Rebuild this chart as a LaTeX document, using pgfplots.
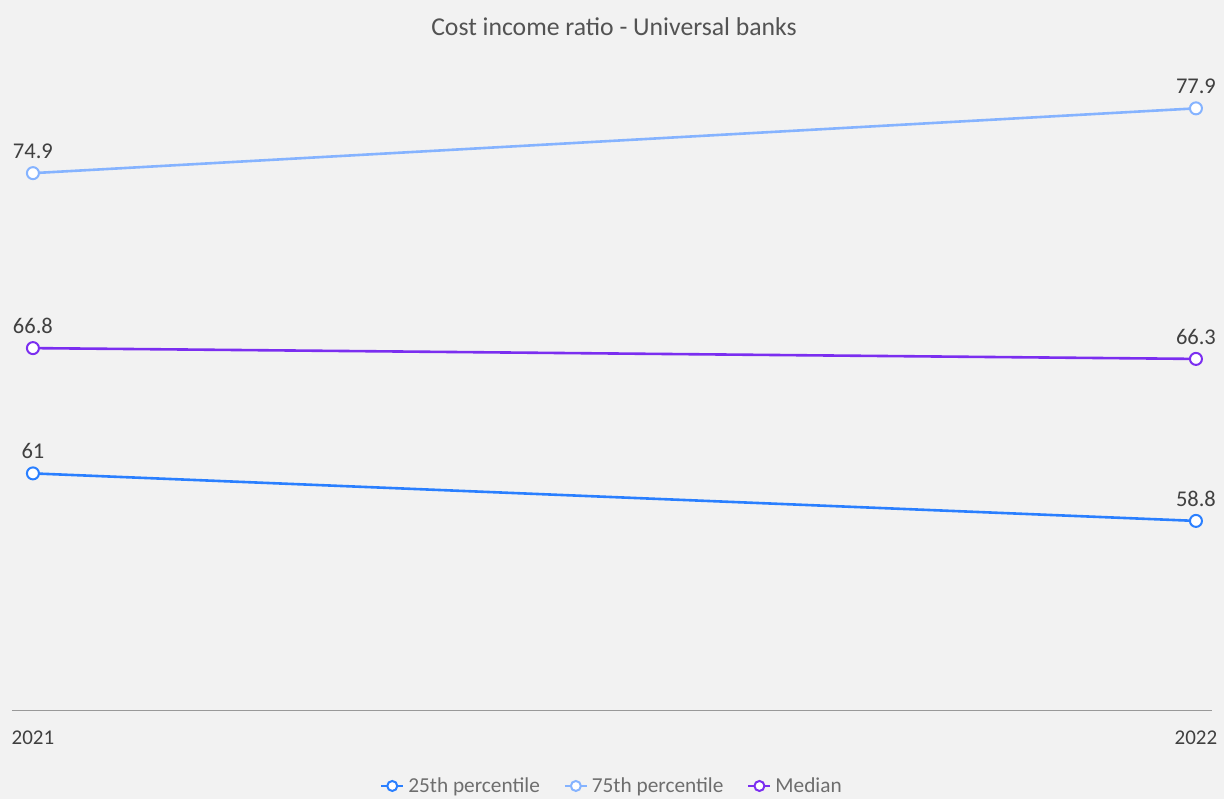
\documentclass[border=0pt]{standalone}
\usepackage{fontspec}
\setmainfont{Carlito}
\usepackage{pgfplots}
\pgfplotsset{compat=1.18}
\definecolor{bg}{HTML}{F2F2F2}
\definecolor{pA}{HTML}{2A7FFF}
\definecolor{pB}{HTML}{85B3FF}
\definecolor{pM}{HTML}{7B2EF0}
\definecolor{axgray}{HTML}{999999}
\definecolor{lblgray}{HTML}{404040}
\definecolor{leggray}{HTML}{6E6E6E}
\begin{document}
\begin{tikzpicture}[x=1pt,y=1pt]
\fill[bg] (0,0) rectangle (1224,799);
\begin{axis}[
  at={(12pt,88pt)}, anchor=south west,
  scale only axis, width=1200pt, height=648pt,
  xmin=-0.018, xmax=1.0138, ymin=50, ymax=80,
  hide y axis,
  axis x line*=bottom,
  x axis line style={-, draw=axgray, line width=1pt},
  xtick={0,1}, xticklabels={2021,2022},
  major tick length=0pt,
  xticklabel style={font=\fontsize{21}{25}\selectfont, text=lblgray, yshift=-16pt},
  clip=false,
  point meta=explicit symbolic,
  nodes near coords,
  every node near coord/.append style={font=\fontsize{22.5}{26}\selectfont, text=lblgray, anchor=south, yshift=10pt},
  every axis plot/.append style={line width=2.6pt, mark=*, mark size=6pt, mark options={fill=white, line width=2pt}},
  legend style={at={(0.5,-0.1157)}, anchor=center, draw=none, fill=none, legend columns=3,
    font=\fontsize{21.3}{24}\selectfont, text=leggray,
    /tikz/every odd column/.append style={column sep=2pt},
    /tikz/every even column/.append style={column sep=22pt}},
  legend image code/.code={\draw[mark repeat=2,mark phase=2,line width=2pt,mark size=5pt] plot coordinates {(0pt,0pt) (11pt,0pt) (22pt,0pt)};},
]
\addplot[color=pA] coordinates {(0,61)[61] (1,58.8)[58.8]};
\addlegendentry{25th percentile}
\addplot[color=pB] coordinates {(0,74.9)[74.9] (1,77.9)[77.9]};
\addlegendentry{75th percentile}
\addplot[color=pM] coordinates {(0,66.8)[66.8] (1,66.3)[66.3]};
\addlegendentry{Median}
\end{axis}
\node[font=\fontsize{25.7}{30}\selectfont, text=lblgray!90] at (614,772) {Cost income ratio - Universal banks};
\end{tikzpicture}
\end{document}
